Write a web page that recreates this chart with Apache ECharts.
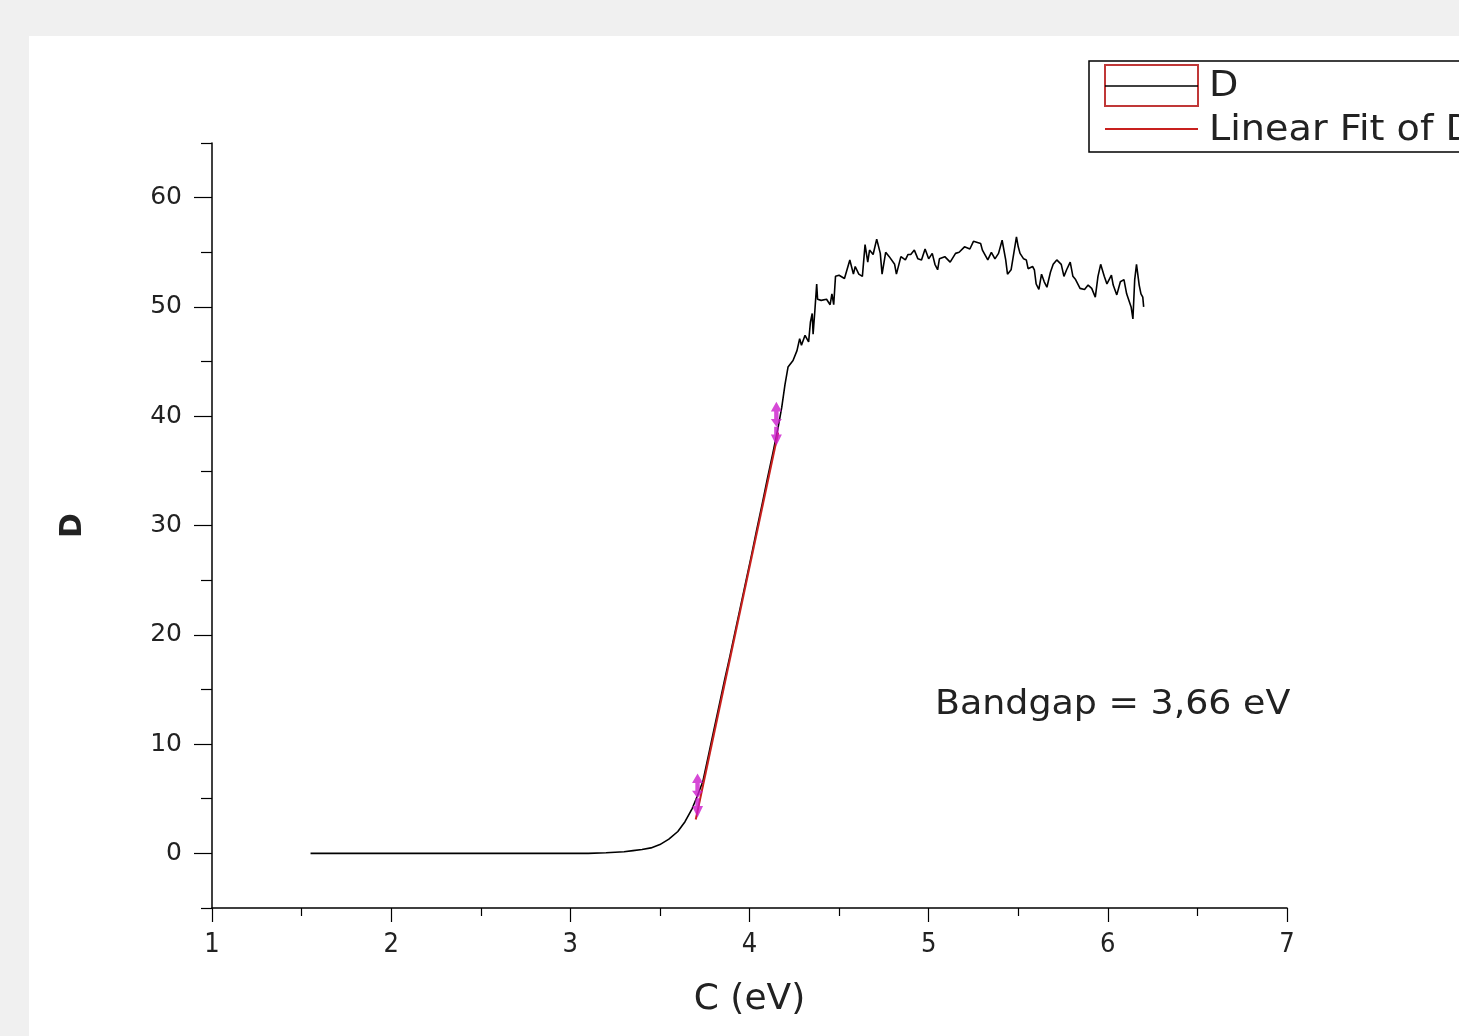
<!DOCTYPE html>
<html>
<head>
<meta charset="utf-8">
<script src="https://cdn.jsdelivr.net/npm/echarts@6/dist/echarts.min.js"></script>
<style>
  html, body { margin: 0; padding: 0; background: #f0f0f0; }
  #wrap { position: relative; width: 1459px; height: 1036px; overflow: hidden; }
  #panel { position: absolute; left: 29px; top: 36px; right: 0; bottom: 0; background: #fff; }
  #chart { position: absolute; left: 0; top: 0; width: 1459px; height: 1036px; }
</style>
</head>
<body>
<div id="wrap">
  <div id="panel"></div>
  <div id="chart"></div>
</div>
<script>
// measured curve D (photon energy in eV vs D)
const xD = [1.55, 1.8, 2.0, 2.3, 2.6, 2.9, 3.1, 3.2, 3.25, 3.3, 3.35, 3.4, 3.45, 3.5, 3.55, 3.6, 3.64, 3.68,
  3.71, 3.74, 3.77, 3.80, 3.83, 3.86, 3.89, 3.92, 3.95, 3.98, 4.01, 4.04, 4.07, 4.10, 4.13, 4.16, 4.18,
  4.198, 4.215, 4.243, 4.265, 4.28, 4.29, 4.31, 4.33, 4.34, 4.35, 4.355, 4.365, 4.375, 4.38, 4.40, 4.43,
  4.45, 4.46, 4.47, 4.48, 4.50, 4.53, 4.56, 4.58, 4.59, 4.61, 4.63, 4.645, 4.66, 4.67, 4.69, 4.71, 4.73,
  4.74, 4.76, 4.78, 4.81, 4.82, 4.845, 4.87, 4.885, 4.90, 4.92, 4.94, 4.96, 4.98, 5.00, 5.02, 5.035, 5.05,
  5.06, 5.09, 5.12, 5.15, 5.17, 5.20, 5.23, 5.25, 5.29, 5.30, 5.33, 5.35, 5.37, 5.39, 5.41, 5.43, 5.44,
  5.46, 5.49, 5.50, 5.51, 5.53, 5.545, 5.555, 5.58, 5.59, 5.60, 5.615, 5.63, 5.645, 5.66, 5.68, 5.695,
  5.715, 5.74, 5.755, 5.77, 5.79, 5.805, 5.82, 5.845, 5.87, 5.89, 5.91, 5.93, 5.945, 5.96, 5.98, 5.995,
  6.02, 6.03, 6.05, 6.07, 6.09, 6.105, 6.13, 6.14, 6.15, 6.16, 6.175, 6.185, 6.195, 6.20]
const yD = [0, 0, 0, 0, 0, 0, 0, 0.05, 0.1, 0.15, 0.25, 0.35, 0.5, 0.8, 1.3, 2.0, 2.9, 4.1,
  5.3, 6.6, 8.9, 11.2, 13.5, 15.8, 18.0, 20.3, 22.6, 24.9, 27.2, 29.6, 31.9, 34.3, 36.6, 39.0, 40.8,
  42.9, 44.5, 45.1, 46.0, 47.1, 46.5, 47.4, 46.8, 48.6, 49.4, 47.5, 49.7, 52.1, 50.7, 50.6, 50.7,
  50.2, 51.2, 50.2, 52.8, 52.9, 52.6, 54.3, 53.0, 53.7, 53.0, 52.8, 55.7, 54.1, 55.2, 54.8, 56.2, 54.9,
  53.0, 55.0, 54.6, 53.9, 53.0, 54.6, 54.3, 54.8, 54.8, 55.2, 54.4, 54.3, 55.3, 54.4, 54.9, 53.9, 53.4,
  54.4, 54.6, 54.1, 54.9, 55.0, 55.5, 55.3, 56.0, 55.8, 55.2, 54.3, 55.0, 54.4, 54.9, 56.1, 54.3, 53.0,
  53.4, 56.4, 55.5, 54.9, 54.4, 54.3, 53.5, 53.7, 53.4, 52.1, 51.6, 53.0, 52.3, 51.8, 53.2, 53.9,
  54.3, 53.9, 52.8, 53.4, 54.1, 52.8, 52.5, 51.7, 51.6, 52.0, 51.7, 50.9, 52.8, 53.9, 52.8, 52.1,
  52.9, 52.0, 51.1, 52.3, 52.5, 51.2, 50.0, 48.9, 52.5, 53.9, 52.0, 51.2, 50.9, 50.0]

// linear fit of D (crosses zero at 3.66 eV)
const xFit = [3.70, 4.16]
const yFit = [3.1, 38.5]

// fit range markers
const xMark = [3.71, 4.15]
const yMark = [5.3, 39.3]

// axis ticks
const yLabelValues = [0, 10, 20, 30, 40, 50, 60]
const yMinorValues = [-5, 5, 15, 25, 35, 45, 55, 65]

const legendNames = ["D", "Linear Fit of D"]
const noteText = "Bandgap = 3,66 eV"

const zip = (xs, ys) => xs.map((x, i) => [x, ys[i]])

const chart = echarts.init(document.getElementById("chart"), null, { renderer: "canvas" })

const wideFont = "'DejaVu Sans', Verdana, sans-serif"
const narrowFont = "'Liberation Sans Narrow', 'DejaVu Sans Condensed', 'Liberation Sans', Arial, sans-serif"
const tickStyle = { color: "#000", width: 1.2 }

const option = {
  backgroundColor: "transparent",
  animation: false,
  grid: { left: 212, right: 172, top: 143, bottom: 128 },
  xAxis: {
    type: "value",
    min: 1,
    max: 7,
    interval: 1,
    name: "C (eV)",
    nameLocation: "middle",
    nameGap: 74,
    nameTextStyle: { fontFamily: wideFont, fontSize: 36, color: "#222" },
    axisLine: { onZero: false, lineStyle: { color: "#000", width: 1.5 } },
    axisTick: { length: 14, lineStyle: tickStyle },
    minorTick: { show: true, splitNumber: 2, length: 8, lineStyle: tickStyle },
    splitLine: { show: false },
    axisLabel: { fontFamily: narrowFont, fontSize: 27, color: "#222", margin: 23 },
  },
  yAxis: [
    {
      type: "value",
      min: -5,
      max: 65,
      name: "D",
      nameLocation: "middle",
      nameRotate: 90,
      nameGap: 124,
      nameTextStyle: { fontFamily: wideFont, fontSize: 30, fontWeight: "bold", color: "#222" },
      axisLine: { show: true, onZero: false, lineStyle: { color: "#000", width: 1.5 } },
      axisTick: { show: true, length: 18, customValues: yLabelValues, lineStyle: tickStyle },
      splitLine: { show: false },
      axisLabel: { customValues: yLabelValues, fontFamily: wideFont, fontSize: 25, color: "#222", margin: 30 },
    },
    {
      type: "value",
      min: -5,
      max: 65,
      position: "left",
      axisLine: { show: false },
      axisTick: { show: true, length: 11, customValues: yMinorValues, lineStyle: tickStyle },
      splitLine: { show: false },
      axisLabel: { show: false },
    },
  ],
  series: [
    {
      name: legendNames[0],
      type: "line",
      data: zip(xD, yD),
      showSymbol: false,
      lineStyle: { color: "#000", width: 1.6 },
      z: 2,
    },
    {
      name: legendNames[1],
      type: "line",
      data: zip(xFit, yFit),
      showSymbol: false,
      lineStyle: { color: "#c8201e", width: 2 },
      z: 3,
    },
    {
      name: "range",
      type: "scatter",
      data: zip(xMark, yMark),
      symbol: "path://M5,0 L10,10 L7,10 L7,18 L10,18 L5,26 L7,26 L7,34 L10,34 L5,46 L0,34 L3,34 L3,26 L5,26 L0,18 L3,18 L3,10 L0,10 Z",
      symbolSize: [11, 44],
      itemStyle: { color: "#cc1ccc" },
      z: 4,
    },
  ],
  graphic: [
    {
      type: "group",
      x: 1089,
      y: 61,
      children: [
        { type: "rect", shape: { x: 0, y: 0, width: 420, height: 91 }, style: { fill: "#fff", stroke: "#000", lineWidth: 1.5 } },
        { type: "rect", shape: { x: 16, y: 4, width: 93, height: 41 }, style: { fill: "none", stroke: "#c03838", lineWidth: 2 } },
        { type: "line", shape: { x1: 16, y1: 25, x2: 109, y2: 25 }, style: { stroke: "#000", lineWidth: 1.5 } },
        { type: "line", shape: { x1: 16, y1: 68, x2: 109, y2: 68 }, style: { stroke: "#c8201e", lineWidth: 2 } },
        { type: "text", x: 120, y: 26, scaleX: 1.06, style: { text: legendNames[0], font: "36px " + wideFont, fill: "#222", verticalAlign: "middle" } },
        { type: "text", x: 120, y: 70, scaleX: 1.06, style: { text: legendNames[1], font: "36px " + wideFont, fill: "#222", verticalAlign: "middle" } },
      ],
    },
    {
      type: "text",
      x: 935,
      y: 705,
      scaleX: 1.07,
      style: { text: noteText, font: "34px " + wideFont, fill: "#222", verticalAlign: "middle" },
    },
  ],
}

chart.setOption(option)
</script>
</body>
</html>
